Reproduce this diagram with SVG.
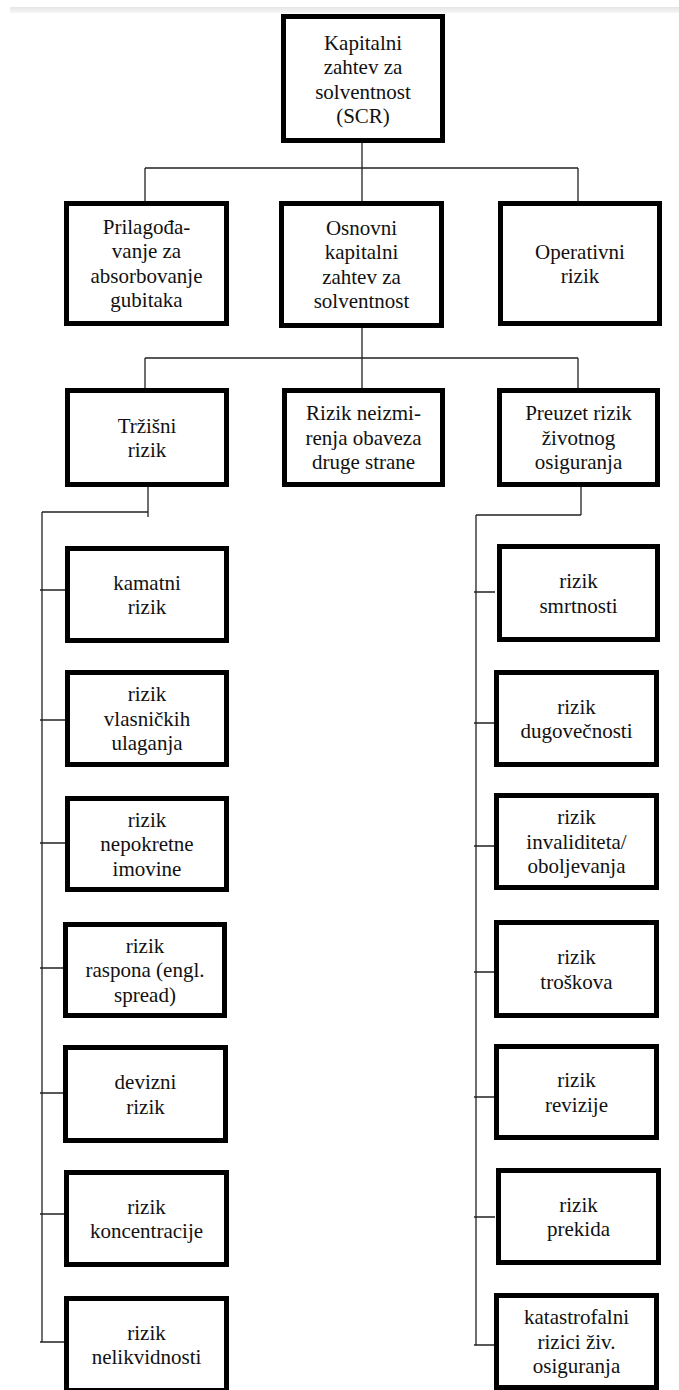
<svg xmlns="http://www.w3.org/2000/svg" width="679" height="1390" viewBox="0 0 679 1390">
<defs>
<linearGradient id="band" x1="0" y1="0" x2="0" y2="1">
<stop offset="0" stop-color="#e6e6e6"/>
<stop offset="1" stop-color="#f6f6f6"/>
</linearGradient>
</defs>
<style>
.box{fill:#fff;stroke:#000;stroke-width:5}
.lbl{font-family:'Liberation Serif','Tinos','Times New Roman','Noto Serif','DejaVu Serif',serif;font-size:21px;fill:#111;text-anchor:middle}
.con{fill:none;stroke:#222;stroke-width:1.3}
</style>
<rect x="0" y="0" width="679" height="1390" fill="#fff"/>
<rect x="10" y="7" width="669" height="6" fill="url(#band)"/>
<g id="connectors">
<path class="con" d="M362,143V168M145,168H578M145,168V201M362,168V201M578,168V201"/>
<path class="con" d="M362,328V388M145,358H578M145,358V388M578,358V388"/>
<path class="con" d="M148,487V517M42,512H148M42,512V1342"/>
<path class="con" d="M40,590H65M40,720H65M40,843H65M40,968H65M40,1093H65M40,1214H65M40,1342H65"/>
<path class="con" d="M581,487V515M476,515H581M476,515V1345"/>
<path class="con" d="M474,592H495M474,723H495M474,846H495M474,972H495M474,1097H495M474,1217H495M474,1345H495"/>
</g>
<g font-family="Liberation Serif, Times New Roman, serif">
<g id="scr"><rect class="box" x="283.5" y="16.5" width="159" height="124"/>
<text class="lbl"><tspan x="363" y="49.5">Kapitalni</tspan><tspan x="363" y="74">zahtev za</tspan><tspan x="363" y="98.5">solventnost</tspan><tspan x="363" y="123">(SCR)</tspan></text></g>
<g id="prilagodjavanje"><rect class="box" x="66.5" y="203.5" width="160" height="120"/>
<text class="lbl"><tspan x="146.5" y="234">Prilagođa-</tspan><tspan x="146.5" y="258">vanje za</tspan><tspan x="146.5" y="283">absorbovanje</tspan><tspan x="146.5" y="307">gubitaka</tspan></text></g>
<g id="osnovni"><rect class="box" x="281.5" y="203.5" width="160" height="122"/>
<text class="lbl"><tspan x="361.5" y="235">Osnovni</tspan><tspan x="361.5" y="259">kapitalni</tspan><tspan x="361.5" y="284">zahtev za</tspan><tspan x="361.5" y="308">solventnost</tspan></text></g>
<g id="operativni"><rect class="box" x="500.5" y="203.5" width="159" height="120"/>
<text class="lbl"><tspan x="580" y="258.5">Operativni</tspan><tspan x="580" y="283">rizik</tspan></text></g>
<g id="trzisni"><rect class="box" x="67.5" y="390.5" width="159" height="94"/>
<text class="lbl"><tspan x="147" y="432.5">Tržišni</tspan><tspan x="147" y="457">rizik</tspan></text></g>
<g id="neizmirenje"><rect class="box" x="284.5" y="390.5" width="158" height="94"/>
<text class="lbl"><tspan x="363.5" y="420">Rizik neizmi-</tspan><tspan x="363.5" y="444.5">renja obaveza</tspan><tspan x="363.5" y="469">druge strane</tspan></text></g>
<g id="zivotno"><rect class="box" x="499.5" y="390.5" width="158" height="94"/>
<text class="lbl"><tspan x="578.5" y="420">Preuzet rizik</tspan><tspan x="578.5" y="444.5">životnog</tspan><tspan x="578.5" y="469">osiguranja</tspan></text></g>
<g id="kamatni"><rect class="box" x="67.5" y="548.5" width="159" height="92"/>
<text class="lbl"><tspan x="147" y="589.5">kamatni</tspan><tspan x="147" y="614">rizik</tspan></text></g>
<g id="vlasnicki"><rect class="box" x="67.5" y="672.5" width="159" height="92"/>
<text class="lbl"><tspan x="147" y="701">rizik</tspan><tspan x="147" y="725.5">vlasničkih</tspan><tspan x="147" y="750">ulaganja</tspan></text></g>
<g id="nepokretne"><rect class="box" x="67.5" y="798.5" width="159" height="91"/>
<text class="lbl"><tspan x="147" y="826.5">rizik</tspan><tspan x="147" y="851">nepokretne</tspan><tspan x="147" y="875.5">imovine</tspan></text></g>
<g id="raspon"><rect class="box" x="65.5" y="924.5" width="159" height="91"/>
<text class="lbl"><tspan x="145" y="952.5">rizik</tspan><tspan x="145" y="977">raspona (engl.</tspan><tspan x="145" y="1001.5">spread)</tspan></text></g>
<g id="devizni"><rect class="box" x="65.5" y="1047.5" width="160" height="93"/>
<text class="lbl"><tspan x="145.5" y="1089">devizni</tspan><tspan x="145.5" y="1113.5">rizik</tspan></text></g>
<g id="koncentracija"><rect class="box" x="66.5" y="1172.5" width="160" height="92"/>
<text class="lbl"><tspan x="146.5" y="1213.5">rizik</tspan><tspan x="146.5" y="1238">koncentracije</tspan></text></g>
<g id="nelikvidnost"><rect class="box" x="66.5" y="1298.5" width="160" height="92"/>
<text class="lbl"><tspan x="146.5" y="1339.5">rizik</tspan><tspan x="146.5" y="1364">nelikvidnosti</tspan></text></g>
<g id="smrtnost"><rect class="box" x="499.5" y="546.5" width="158" height="93"/>
<text class="lbl"><tspan x="578.5" y="588">rizik</tspan><tspan x="578.5" y="612.5">smrtnosti</tspan></text></g>
<g id="dugovecnost"><rect class="box" x="496.5" y="672.5" width="160" height="92"/>
<text class="lbl"><tspan x="576.5" y="713.5">rizik</tspan><tspan x="576.5" y="738">dugovečnosti</tspan></text></g>
<g id="invaliditet"><rect class="box" x="496.5" y="795.5" width="160" height="92"/>
<text class="lbl"><tspan x="576.5" y="824">rizik</tspan><tspan x="576.5" y="848.5">invaliditeta/</tspan><tspan x="576.5" y="873">oboljevanja</tspan></text></g>
<g id="troskovi"><rect class="box" x="496.5" y="922.5" width="160" height="93"/>
<text class="lbl"><tspan x="576.5" y="964">rizik</tspan><tspan x="576.5" y="988.5">troškova</tspan></text></g>
<g id="revizija"><rect class="box" x="496.5" y="1046.5" width="160" height="91"/>
<text class="lbl"><tspan x="576.5" y="1087">rizik</tspan><tspan x="576.5" y="1111.5">revizije</tspan></text></g>
<g id="prekid"><rect class="box" x="498.5" y="1170.5" width="160" height="92"/>
<text class="lbl"><tspan x="578.5" y="1211.5">rizik</tspan><tspan x="578.5" y="1236">prekida</tspan></text></g>
<g id="katastrofalni"><rect class="box" x="496.5" y="1295.5" width="160" height="92"/>
<text class="lbl"><tspan x="576.5" y="1324">katastrofalni</tspan><tspan x="576.5" y="1348.5">rizici živ.</tspan><tspan x="576.5" y="1373">osiguranja</tspan></text></g>
</g>
</svg>
